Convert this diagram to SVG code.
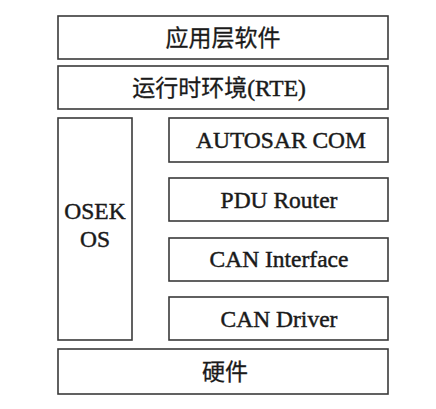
<svg xmlns="http://www.w3.org/2000/svg" width="436" height="409" viewBox="0 0 436 409">
<style>
rect.b{fill:#fff;stroke:#3a3a3a;stroke-width:1.6}
text{font-family:"Liberation Serif","Noto Sans CJK SC",serif;font-size:23.5px;fill:#1a1a1a;stroke:#1a1a1a;stroke-width:0.45;text-anchor:middle}
text.cjk{font-family:"Noto Sans CJK SC",sans-serif;font-size:23px;stroke-width:0.3}
</style>
<rect width="436" height="409" fill="#fff"/>
<g id="app"><rect class="b" x="58" y="16" width="330" height="43"/><text class="cjk" x="223" y="46">应用层软件</text></g>
<g id="rte"><rect class="b" x="58" y="66" width="330" height="43"/><text x="219" y="96"><tspan font-family="Noto Sans CJK SC,sans-serif" font-size="23" stroke-width="0.3">运行时环境</tspan>(RTE)</text></g>
<g id="osek"><rect class="b" x="58" y="118" width="74" height="222"/><text x="95" y="219">OSEK</text><text x="95" y="247">OS</text></g>
<g id="com"><rect class="b" x="169" y="118" width="219" height="44"/><text x="281" y="148">AUTOSAR COM</text></g>
<g id="pdur"><rect class="b" x="169" y="178" width="219" height="43"/><text x="279" y="208">PDU Router</text></g>
<g id="canif"><rect class="b" x="169" y="238" width="219" height="43"/><text x="279" y="267">CAN Interface</text></g>
<g id="candrv"><rect class="b" x="169" y="297" width="219" height="43"/><text x="279" y="327">CAN Driver</text></g>
<g id="hw"><rect class="b" x="58" y="349" width="330" height="45"/><text class="cjk" x="225" y="380">硬件</text></g>
<g id="connectors"></g>
</svg>
